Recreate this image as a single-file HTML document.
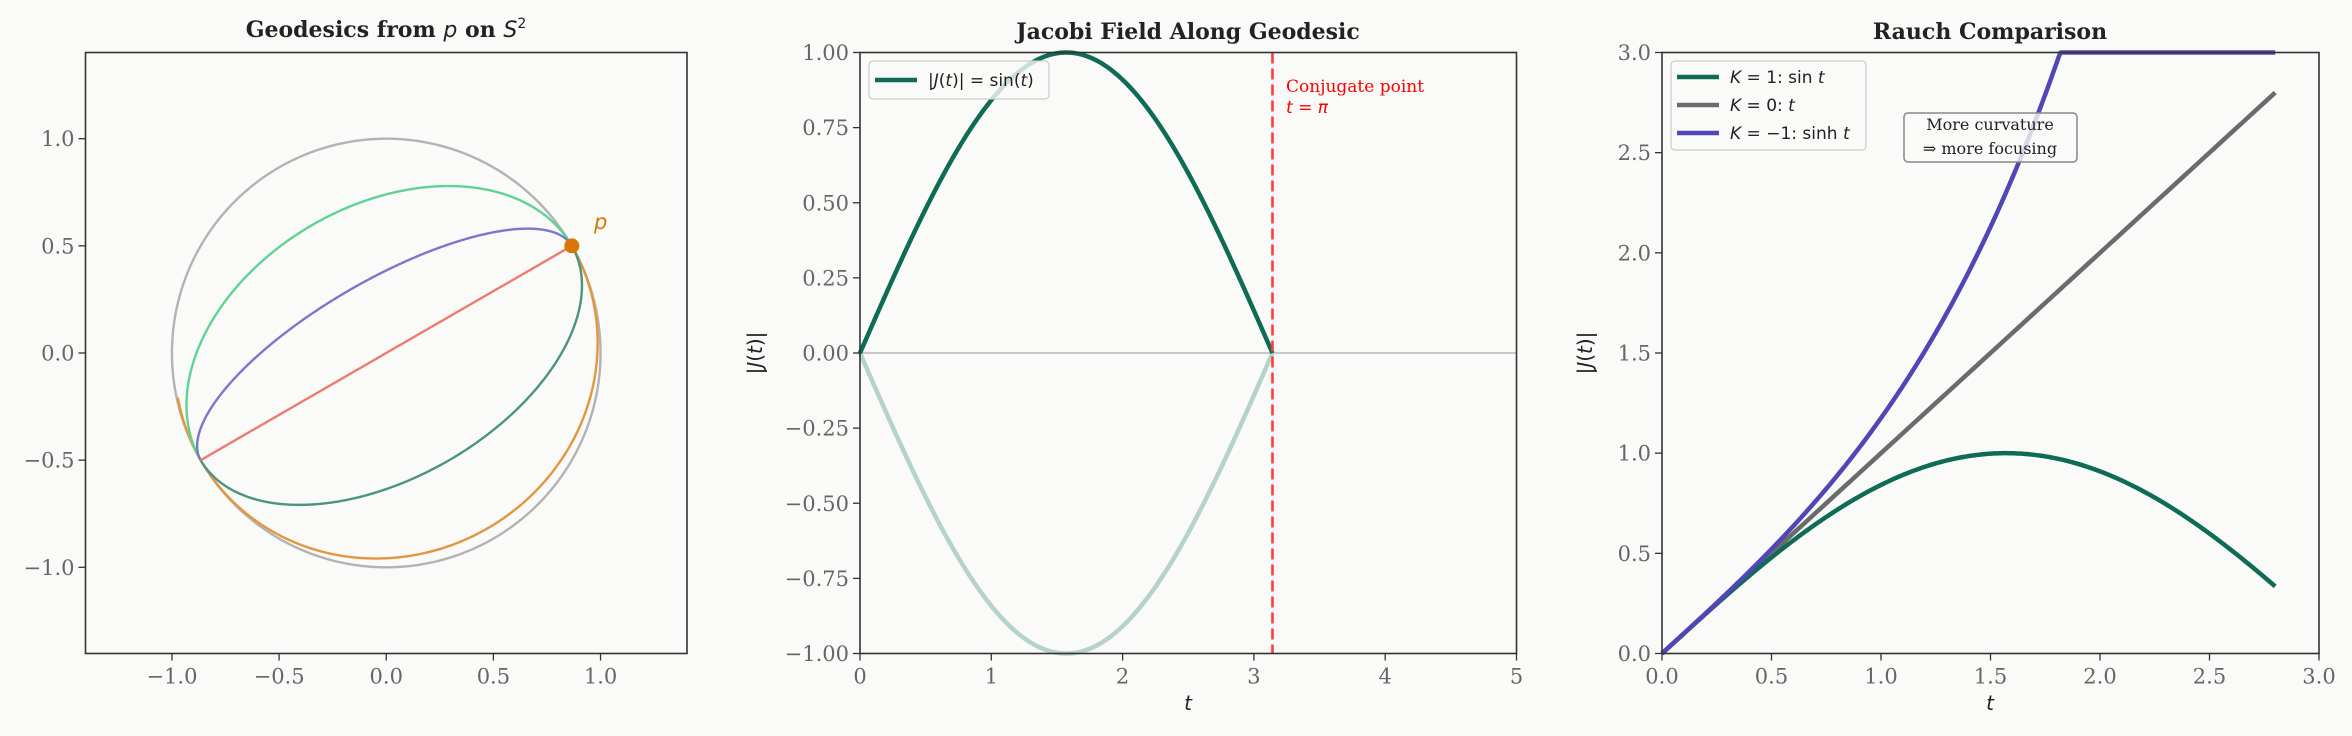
<!DOCTYPE html>
<html><head><meta charset="utf-8"><style>
html,body{margin:0;padding:0;background:#fafaf8;}
svg{display:block}
.t{font-family:"DejaVu Serif","Liberation Serif",serif;font-size:21px;fill:#666}
.ti{font-family:"DejaVu Serif","Liberation Serif",serif;font-size:22px;font-weight:bold;fill:#222}
.s{font-family:"DejaVu Sans","Liberation Sans",sans-serif;fill:#222}
</style></head><body>
<svg id="s" width="2352" height="736" xmlns="http://www.w3.org/2000/svg">
<rect width="2352" height="736" fill="#fafaf8"/>
<g id="g"></g>
<text class="ti" x="386" y="37" text-anchor="middle">Geodesics from <tspan font-style="italic" font-weight="normal" font-family="DejaVu Sans">p</tspan> on <tspan font-style="italic" font-weight="normal" font-family="DejaVu Sans">S</tspan><tspan font-size="14" dy="-9" font-weight="normal" font-family="DejaVu Sans">2</tspan></text>
<text class="ti" x="1188" y="39" text-anchor="middle">Jacobi Field Along Geodesic</text>
<text class="ti" x="1990" y="39" text-anchor="middle">Rauch Comparison</text>
<text x="594" y="229" font-family="DejaVu Sans" font-style="italic" font-size="21" fill="#d97706">p</text>
<text x="1286" y="92" font-family="DejaVu Serif" font-size="17" fill="#ff0000">Conjugate point</text>
<text x="1286" y="113" font-family="DejaVu Sans" font-style="italic" font-size="17" fill="#ff0000">t = π</text>
<rect x="869" y="61" width="180" height="38" rx="4" fill="#fafaf8" fill-opacity="0.8" stroke="#ccc" stroke-width="1.2"/>
<line x1="875" y1="80" x2="917" y2="80" stroke="#0e6b55" stroke-width="4.5"/>
<text class="s" x="928" y="86" font-size="17">|<tspan font-style="italic">J</tspan>(<tspan font-style="italic">t</tspan>)| = sin(<tspan font-style="italic">t</tspan>)</text>
<rect x="1671" y="61" width="195" height="89" rx="4" fill="#fafaf8" fill-opacity="0.8" stroke="#ccc" stroke-width="1.2"/>
<line x1="1677" y1="77" x2="1719" y2="77" stroke="#0e6b55" stroke-width="4.5"/>
<line x1="1677" y1="105" x2="1719" y2="105" stroke="#6b6b6b" stroke-width="4.5"/>
<line x1="1677" y1="133" x2="1719" y2="133" stroke="#5046b6" stroke-width="4.5"/>
<text class="s" x="1730" y="83" font-size="17"><tspan font-style="italic">K</tspan> = 1: sin <tspan font-style="italic">t</tspan></text>
<text class="s" x="1730" y="111" font-size="17"><tspan font-style="italic">K</tspan> = 0: <tspan font-style="italic">t</tspan></text>
<text class="s" x="1730" y="139" font-size="17"><tspan font-style="italic">K</tspan> = −1: sinh <tspan font-style="italic">t</tspan></text>
<rect x="1904" y="113" width="173" height="49" rx="4" fill="#fafaf8" fill-opacity="0.8" stroke="#888" stroke-width="1.5"/>
<text x="1990" y="130" font-family="DejaVu Serif" font-size="16" fill="#222" text-anchor="middle">More curvature</text>
<text x="1990" y="154" font-family="DejaVu Serif" font-size="16" fill="#222" text-anchor="middle">⇒ more focusing</text>
<text x="1188" y="710" font-family="DejaVu Sans" font-style="italic" font-size="20" fill="#222" text-anchor="middle">t</text>
<text x="1990" y="710" font-family="DejaVu Sans" font-style="italic" font-size="20" fill="#222" text-anchor="middle">t</text>
<text transform="translate(762,353) rotate(-90)" font-family="DejaVu Sans" font-size="20" fill="#222" text-anchor="middle">|<tspan font-style="italic">J</tspan>(<tspan font-style="italic">t</tspan>)|</text>
<text transform="translate(1592,353) rotate(-90)" font-family="DejaVu Sans" font-size="20" fill="#222" text-anchor="middle">|<tspan font-style="italic">J</tspan>(<tspan font-style="italic">t</tspan>)|</text>
</svg>
<script>
var g=document.getElementById('g'),NS='http://www.w3.org/2000/svg';
function el(n,a,txt){var e=document.createElementNS(NS,n);for(var k in a)e.setAttribute(k,a[k]);if(txt!==undefined)e.textContent=txt;g.appendChild(e);return e;}
function path(pts,st){var d='M'+pts.map(function(p){return p[0].toFixed(2)+','+p[1].toFixed(2)}).join('L');var a={d:d,fill:'none','stroke-linejoin':'round','stroke-linecap':'butt'};for(var k in st)a[k]=st[k];return el('path',a);}
var T=52.5,B=653.5;
var P1={l:85.5,r:687},cx=386.25,cy=353,u=214.3;
function X1(x){return cx+x*u}function Y1(y){return cy-y*u}
var pts=[];for(var i=0;i<=400;i++){var s=i/400*2*Math.PI;pts.push([X1(Math.cos(s)),Y1(Math.sin(s))]);}
path(pts,{stroke:'#b3b3b3','stroke-width':2.4});
var px=0.866,py=0.5,nx=-0.5,ny=0.866;
function ell(a,s1,col){var p=[];for(var i=0;i<=300;i++){var s=i/300*s1;var x=px*Math.cos(s)+a*nx*Math.sin(s),y=py*Math.cos(s)+a*ny*Math.sin(s);p.push([X1(x),Y1(y)]);}path(p,{stroke:col,'stroke-width':2.4});}
ell(-0.945,Math.PI+0.33,'#e3963e');
ell(-0.58,Math.PI,'#4b9580');
ell(0.69,Math.PI,'#5fd394');
ell(0.34,Math.PI,'#7b78cc');
path([[X1(px),Y1(py)],[X1(-px),Y1(-py)]],{stroke:'#ee7b70','stroke-width':2.4});
el('circle',{cx:X1(px),cy:Y1(py),r:7.5,fill:'#d97706'});
el('rect',{x:P1.l,y:T,width:P1.r-P1.l,height:B-T,fill:'none',stroke:'#333','stroke-width':1.6});
[-1,-0.5,0,0.5,1].forEach(function(v){var lab=(v<0?'−':'')+Math.abs(v).toFixed(1);
 el('line',{x1:X1(v),y1:B,x2:X1(v),y2:B+7,stroke:'#333','stroke-width':1.3});
 el('text',{x:X1(v),y:B+30,'class':'t','text-anchor':'middle'},lab);
 el('line',{x1:P1.l-7,y1:Y1(v),x2:P1.l,y2:Y1(v),stroke:'#333','stroke-width':1.3});
 el('text',{x:P1.l-11,y:Y1(v)+7.5,'class':'t','text-anchor':'end'},lab);});
var L2=860,R2=1516.5;
function X2(t){return L2+t*(R2-L2)/5}function Y2(v){return 353-v*300.5}
el('line',{x1:L2,y1:Y2(0),x2:R2,y2:Y2(0),stroke:'#aaa','stroke-width':1.2});
var a=[],b=[];for(var i=0;i<=300;i++){var t=i/300*Math.PI;a.push([X2(t),Y2(Math.sin(t))]);b.push([X2(t),Y2(-Math.sin(t))]);}
path(b,{stroke:'#b5d3ca','stroke-width':4.5});
path(a,{stroke:'#0e6b55','stroke-width':4.5});
el('line',{x1:X2(Math.PI),y1:T,x2:X2(Math.PI),y2:B,stroke:'#ff3b3b','stroke-width':2.6,'stroke-dasharray':'11,5'});
el('rect',{x:L2,y:T,width:R2-L2,height:B-T,fill:'none',stroke:'#333','stroke-width':1.6});
for(var k=0;k<=5;k++){el('line',{x1:X2(k),y1:B,x2:X2(k),y2:B+7,stroke:'#333','stroke-width':1.3});el('text',{x:X2(k),y:B+30,'class':'t','text-anchor':'middle'},''+k);}
for(var k=-4;k<=4;k++){var v=k/4;el('line',{x1:L2-7,y1:Y2(v),x2:L2,y2:Y2(v),stroke:'#333','stroke-width':1.3});el('text',{x:L2-11,y:Y2(v)+7.5,'class':'t','text-anchor':'end'},(v<0?'−':'')+Math.abs(v).toFixed(2));}
var L3=1662,R3=2319;
function X3(t){return L3+t*(R3-L3)/3}function Y3(v){return B-v*(B-T)/3}
var s1=[],s2=[],s3=[];for(var i=0;i<=300;i++){var t=i/300*2.8;s1.push([X3(t),Y3(Math.sin(t))]);s2.push([X3(t),Y3(t)]);s3.push([X3(t),Y3(Math.min(3,Math.sinh(t)))]);}
path(s2,{stroke:'#6b6b6b','stroke-width':4.5});
path(s1,{stroke:'#0e6b55','stroke-width':4.5});
path(s3,{stroke:'#5046b6','stroke-width':4.5});
el('rect',{x:L3,y:T,width:R3-L3,height:B-T,fill:'none',stroke:'#333','stroke-width':1.6});
for(var k=0;k<=6;k++){var v=k/2;
 el('line',{x1:X3(v),y1:B,x2:X3(v),y2:B+7,stroke:'#333','stroke-width':1.3});el('text',{x:X3(v),y:B+30,'class':'t','text-anchor':'middle'},v.toFixed(1));
 el('line',{x1:L3-7,y1:Y3(v),x2:L3,y2:Y3(v),stroke:'#333','stroke-width':1.3});el('text',{x:L3-11,y:Y3(v)+7.5,'class':'t','text-anchor':'end'},v.toFixed(1));}
var svg=document.getElementById('s');var kids=[].slice.call(svg.children).slice(2);kids.forEach(function(k){svg.appendChild(k);});
</script>
</body></html>
